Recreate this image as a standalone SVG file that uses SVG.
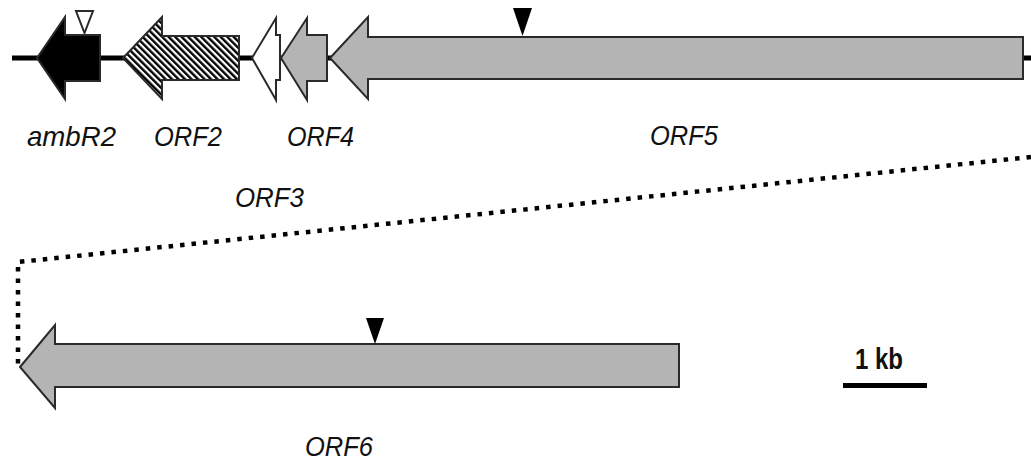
<svg xmlns="http://www.w3.org/2000/svg" width="1031" height="461" viewBox="0 0 1031 461">
<defs>
<pattern id="hatch" patternUnits="userSpaceOnUse" width="4.6" height="4.6" patternTransform="rotate(-45)">
<rect width="4.6" height="4.6" fill="#fff"/>
<rect width="2.4" height="4.6" fill="#000"/>
</pattern>
</defs>
<style>
.gene{stroke:#2a2a2a;stroke-width:2;stroke-linejoin:miter}
.gray{fill:#b4b4b4}
.lbl{font-family:"Liberation Sans",Arial,sans-serif;font-style:italic;font-size:28px;fill:#111}
.mark{fill:#000}
</style>
<rect width="1031" height="461" fill="#fff"/>
<g id="connectors">
<line x1="12" y1="58" x2="1031" y2="58" stroke="#000" stroke-width="5"/>
<polyline points="1031,157 18,262 18,368" fill="none" stroke="#000" stroke-width="4.5" stroke-dasharray="4.5 7"/>
</g>
<g id="ambR2">
<polygon class="gene" points="37,58 65,17 65,35 100,35 100,81 65,81 65,99" fill="#000"/>
<polygon points="76,11 93,11 84.5,33" fill="#fff" stroke="#2a2a2a" stroke-width="2"/>
<text class="lbl" x="27" y="146" textLength="89" lengthAdjust="spacingAndGlyphs">ambR2</text>
</g>
<g id="ORF2">
<polygon class="gene" points="123,58 162,17 162,36 239,36 239,80 162,80 162,99" fill="url(#hatch)"/>
<text class="lbl" x="154" y="146" textLength="68" lengthAdjust="spacingAndGlyphs">ORF2</text>
</g>
<g id="ORF3">
<polygon class="gene" points="252,58 276,18 276,35 280,35 280,80 276,80 276,100" fill="#fff" stroke-width="1.5"/>
<text class="lbl" x="235" y="207" textLength="69" lengthAdjust="spacingAndGlyphs">ORF3</text>
</g>
<g id="ORF4">
<polygon class="gene gray" points="281,58 307,18 307,35 327,35 327,81 307,81 307,100"/>
<text class="lbl" x="287" y="146" textLength="67" lengthAdjust="spacingAndGlyphs">ORF4</text>
</g>
<g id="ORF5">
<polygon class="gene gray" points="330,58 368,17 368,37 1023,37 1023,79 368,79 368,99"/>
<polygon class="mark" points="513,8 532,8 522.5,36"/>
<text class="lbl" x="650" y="145" textLength="68" lengthAdjust="spacingAndGlyphs">ORF5</text>
</g>
<g id="ORF6">
<polygon class="gene gray" points="20,367 55,325 55,344 679,344 679,387 55,387 55,408"/>
<polygon class="mark" points="366,318 384,318 375,344"/>
<text class="lbl" x="305" y="456" textLength="68" lengthAdjust="spacingAndGlyphs">ORF6</text>
</g>
<g id="scalebar">
<text x="855" y="369" font-family="'Liberation Sans',Arial,sans-serif" font-weight="bold" font-size="29" textLength="48" lengthAdjust="spacingAndGlyphs" fill="#111">1 kb</text>
<rect x="843" y="383" width="84" height="5" fill="#000"/>
</g>
</svg>
